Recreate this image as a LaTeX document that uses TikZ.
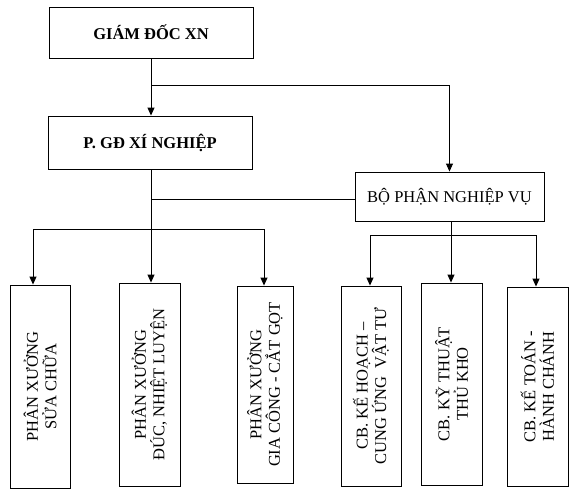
\documentclass[tikz,border=0pt]{standalone}
\usepackage{fontspec}
\setmainfont{Liberation Serif}
\usetikzlibrary{arrows.meta,calc}
\begin{document}
\begin{tikzpicture}[x=1pt,y=-1pt,
  line width=0.9pt,
  box/.style={draw, line width=0.9pt, inner sep=0pt, anchor=center, align=center,
    font=\fontsize{16.5}{18.5}\selectfont},
  topbox/.style={box, font=\bfseries\fontsize{16.5}{18}\selectfont},
  vbox/.style={box, rotate=90},
  arr/.style={-{Triangle[length=8pt,width=7pt]}},
  conn/.style={line width=0.9pt}]
\useasboundingbox (0,0) rectangle (573,490);
\fill[white] (0,0) rectangle (573,490);
% top boxes
\node[topbox, minimum width=204pt, minimum height=51pt] (gd) at (151,32.5) {GIÁM ĐỐC XN};
\node[topbox, minimum width=204pt, minimum height=53pt] (pgd) at (150,142.5) {P. GĐ XÍ NGHIỆP};
\node[box, minimum width=189pt, minimum height=49pt] (bp) at (449.5,196.5) {BỘ PHẬN NGHIỆP VỤ};
% bottom boxes (rotated: width = vertical extent)
\node[vbox, minimum width=203pt, minimum height=60pt] (b1) at (40,386.5) {PHÂN XƯỞNG\\SỬA CHỮA};
\node[vbox, minimum width=203pt, minimum height=61pt] (b2) at (149.5,384.5) {PHÂN XƯỞNG\\ĐÚC, NHIỆT LUYỆN};
\node[vbox, minimum width=197pt, minimum height=56pt] (b3) at (265,384.5) {PHÂN XƯỞNG\\GIA CÔNG - CẮT GỌT};
\node[vbox, minimum width=200pt, minimum height=60pt] (b4) at (371,386) {CB. KẾ HOẠCH –\\CUNG ỨNG~ VẬT TƯ};
\node[vbox, minimum width=202pt, minimum height=61pt] (b5) at (451.5,384) {CB. KỸ THUẬT\\THỦ KHO};
\node[vbox, minimum width=199pt, minimum height=61pt] (b6) at (537.5,386.5) {CB. KẾ TOÁN -\\HÀNH CHÁNH};
% junction coordinates
\coordinate (j1) at (151,85);
\coordinate (j2) at (151,199);
\coordinate (j3) at (151,229);
\coordinate (l1) at (33,229);
\coordinate (l3) at (264,229);
\coordinate (j4) at (451,235);
\coordinate (r1) at (370,235);
\coordinate (r3) at (536,235);
% connectors
\draw[conn, arr] (gd.south -| j1) -- (j1 |- pgd.north);
\draw[conn, arr] (j1) -| (bp.north);
\draw[conn] (pgd.south -| j3) -- (j3);
\draw[conn] (j2) -- (j2 -| bp.west);
\draw[conn] (l1) -- (l3);
\draw[conn, arr] (l1) -- (l1 |- b1.east);
\draw[conn, arr] (j3) -- (j3 |- b2.east);
\draw[conn, arr] (l3) -- (l3 |- b3.east);
\draw[conn] (bp.south -| j4) -- (j4);
\draw[conn] (r1) -- (r3);
\draw[conn, arr] (r1) -- (r1 |- b4.east);
\draw[conn, arr] (j4) -- (j4 |- b5.east);
\draw[conn, arr] (r3) -- (r3 |- b6.east);
\end{tikzpicture}
\end{document}
